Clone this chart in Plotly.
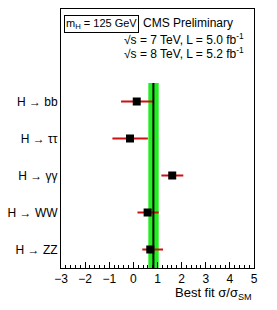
import plotly.graph_objects as go

channels = ["H → ZZ", "H → WW", "H → γγ", "H → ττ", "H → bb"]
best_fit = [0.70, 0.59, 1.61, -0.14, 0.14]
err_low = [0.33, 0.42, 0.45, 0.73, 0.65]
err_high = [0.53, 0.46, 0.46, 0.74, 0.71]
combined = 0.83
combined_low = 0.62
combined_high = 1.05
x_ticks = [-3, -2, -1, 0, 1, 2, 3, 4, 5]

ypos = list(range(len(channels)))

fig = go.Figure()

# combined band
fig.add_shape(type="rect", xref="x", yref="y", x0=combined_low, x1=combined_high,
              y0=-0.5, y1=4.5, fillcolor="#22ee22", line_width=0, layer="below")
fig.add_shape(type="line", xref="x", yref="y", x0=combined, x1=combined,
              y0=-0.5, y1=4.5, line=dict(color="black", width=2))

fig.add_trace(go.Scatter(
    x=best_fit, y=ypos, mode="markers",
    marker=dict(symbol="square", size=8, color="black"),
    error_x=dict(type="data", symmetric=False, array=err_high, arrayminus=err_low,
                 color="#cc1111", thickness=2, width=0),
    showlegend=False))

fig.update_layout(
    width=277, height=310,
    margin=dict(l=57, r=23, t=8, b=42),
    plot_bgcolor="white", paper_bgcolor="white",
    font=dict(family="Liberation Sans, Arial", size=12, color="black"),
    xaxis=dict(range=[-3, 5], tickvals=x_ticks, ticks="inside", ticklen=6,
               tickcolor="black", showgrid=False, zeroline=False,
               showline=True, linecolor="black", linewidth=1, mirror=True,
               minor=dict(dtick=0.2, ticks="inside", ticklen=3, tickcolor="black"),
               tickfont=dict(size=12)),
    yaxis=dict(range=[-0.5, 6.5], tickvals=ypos, ticktext=channels,
               ticks="", showgrid=False, zeroline=False,
               showline=True, linecolor="black", linewidth=1, mirror=True,
               tickfont=dict(size=12)),
)

fig.add_annotation(xref="paper", yref="paper", x=1.0, y=-0.058, xanchor="right", yanchor="top",
                   text="Best fit σ/σ<sub>SM</sub>", showarrow=False, font=dict(size=13))
fig.add_annotation(xref="x", yref="y", x=-2.88, y=6.1, xanchor="left", yanchor="middle",
                   text="m<sub>H</sub> = 125 GeV", showarrow=False, font=dict(size=11),
                   bordercolor="black", borderwidth=1, borderpad=1, bgcolor="white")
fig.add_annotation(xref="x", yref="y", x=2.25, y=6.12, xanchor="center", yanchor="middle",
                   text="CMS Preliminary", showarrow=False, font=dict(size=12))
fig.add_annotation(xref="x", yref="y", x=4.65, y=5.69, xanchor="right", yanchor="middle",
                   text="√s = 7 TeV, L = 5.0 fb<sup>-1</sup>", showarrow=False, font=dict(size=12))
fig.add_annotation(xref="x", yref="y", x=4.65, y=5.31, xanchor="right", yanchor="middle",
                   text="√s = 8 TeV, L = 5.2 fb<sup>-1</sup>", showarrow=False, font=dict(size=12))

fig.write_html("out.html")
